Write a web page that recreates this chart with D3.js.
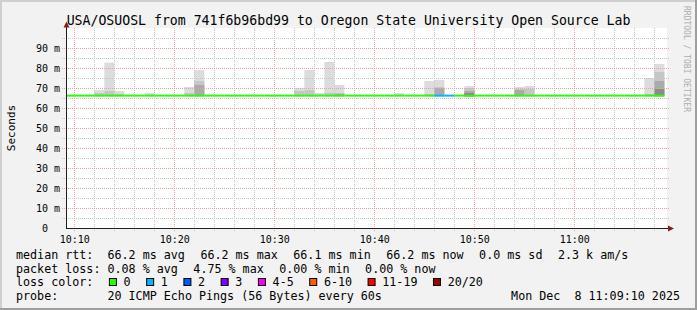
<!DOCTYPE html>
<html><head><meta charset="utf-8">
<script src="https://cdn.jsdelivr.net/npm/d3@7"></script>
<style>
body{margin:0;background:#f2f2f2}
svg{display:block}
text{font-family:"DejaVu Sans Mono",monospace;fill:#000}
</style>
</head><body>
<svg id="c" width="697" height="310"></svg>
<script>
// ---------------- data ----------------
const title = "USA/OSUOSL from 741f6b96bd99 to Oregon State University Open Source Lab";
const yLabel = "Seconds";
const watermark = "RRDTOOL / TOBI OETIKER";
const startTime = "2025-12-08 10:09:10";
const endTime = "2025-12-08 11:09:10";

const minutes = ["10:09","10:10","10:11","10:12","10:13","10:14","10:15","10:16","10:17","10:18",
  "10:19","10:20","10:21","10:22","10:23","10:24","10:25","10:26","10:27","10:28",
  "10:29","10:30","10:31","10:32","10:33","10:34","10:35","10:36","10:37","10:38",
  "10:39","10:40","10:41","10:42","10:43","10:44","10:45","10:46","10:47","10:48",
  "10:49","10:50","10:51","10:52","10:53","10:54","10:55","10:56","10:57","10:58",
  "10:59","11:00","11:01","11:02","11:03","11:04","11:05","11:06","11:07","11:08"];
const medianRtt = [66.2,66.2,66.2,66.2,66.2,66.2,66.2,66.2,66.2,66.2,
  66.2,66.2,66.2,66.2,66.2,66.2,66.2,66.2,66.2,66.2,
  66.2,66.2,66.2,66.2,66.2,66.2,66.2,66.2,66.2,66.2,
  66.2,66.2,66.2,66.2,66.2,66.2,66.2,66.2,66.2,66.2,
  66.1,66.2,66.2,66.2,66.2,66.2,66.2,66.2,66.2,66.2,
  66.2,66.2,66.2,66.2,66.2,66.2,66.2,66.2,66.2,66.2];
const lossCount = [0,0,0,0,0,0,0,0,0,0,
  0,0,0,0,0,0,0,0,0,0,
  0,0,0,0,0,0,0,0,0,0,
  0,0,0,0,0,0,0,1,1,0,
  0,0,0,0,0,0,0,0,0,0,
  0,0,0,0,0,0,0,0,0,0];

// smoke (ms): minimum ping, then successive darker band tops
const smokeMinutes = ["10:12","10:13","10:14","10:17","10:21","10:22","10:32","10:33","10:34","10:35",
  "10:36","10:42","10:45","10:46","10:49","10:54","10:55","11:07","11:08"];
const smokeMin   = [65.9,65.9,65.9,65.9,65.9,65.9,65.9,65.9,65.9,65.9,65.9,65.9,65.9,65.9,65.9,65.9,65.9,65.9,65.9];
const smokeTop   = [69.0,82.7,68.5,67.6,70.5,79.0,70.0,79.0,67.5,83.0,71.5,67.5,73.5,74.0,71.0,70.5,71.0,75.0,82.0];
const smokeBand2 = [67.5,68.5,67.0,null,67.5,73.5,68.5,69.0,null,67.5,67.5,null,67.0,70.5,70.0,69.5,69.5,67.0,78.0];
const smokeBand3 = [null,null,null,null,null,71.5,null,null,null,null,67.0,null,null,70.0,68.5,69.0,null,null,73.5];
const smokeBand4 = [null,null,null,null,null,null,null,null,null,null,null,null,null,null,67.5,null,null,null,69.5];

const yTicks = [0,10,20,30,40,50,60,70,80,90];
const xTickLabels = ["10:10","10:20","10:30","10:40","10:50","11:00"];

const lossLabels = ["0","1","2","3","4-5","6-10","11-19","20/20"];
const lossColors = ["#26ff00","#00b8ff","#0059ff","#7e00ff","#ff00ea","#ff5e00","#ff0000","#a00000"];
const lossUpper  = [0,1,2,3,5,10,19,20];

const legendRtt  = ["median rtt:  66.2 ms avg","66.2 ms max","66.1 ms min","66.2 ms now","0.0 ms sd","2.3 k am/s"];
const legendLoss = ["packet loss: 0.08 % avg","4.75 % max","0.00 % min","0.00 % now"];
const legendLossTitle = "loss color:";
const probeText = "probe:       20 ICMP Echo Pings (56 Bytes) every 60s";
const dateText = "Mon Dec  8 11:09:10 2025";

// ---------------- drawing ----------------
const W = 697, H = 310;
const svg = d3.select("#c");
const pT = d3.timeParse("%Y-%m-%d %H:%M:%S");
const pM = m => pT("2025-12-08 " + m + ":00");
const t0 = pT(startTime), t1 = pT(endTime);
const x = d3.scaleTime().domain([t0, t1]).range([66, 666]);
const y = d3.scaleLinear().domain([0, 100]).range([228, 28]);
const shadeColors = ["#dcdcdc", "#c6c6c6", "#ababab", "#8c8c8c"];

// background + 3D frame
svg.append("rect").attr("x",0).attr("y",0).attr("width",W).attr("height",H).attr("fill","#f2f2f2");
svg.append("path").attr("d",`M0,0H${W}V2H2V${H}H0Z`).attr("fill","#cfcfcf");
svg.append("path").attr("d",`M${W},${H}H0V${H-2}H${W-2}V0H${W}Z`).attr("fill","#9e9e9e");

// canvas
svg.append("rect").attr("x",66).attr("y",28).attr("width",601).attr("height",200).attr("fill","#fff");

svg.append("defs").append("clipPath").attr("id","clip")
  .append("rect").attr("x",66).attr("y",28).attr("width",600).attr("height",200);

// smoke
const gS = svg.append("g").attr("clip-path","url(#clip)");
const bands = [smokeTop, smokeBand2, smokeBand3, smokeBand4];
bands.forEach((arr, bi) => {
  smokeMinutes.forEach((m, i) => {
    const v = arr[i];
    if (v == null) return;
    const ts = pM(m), te = d3.timeMinute.offset(ts, 1);
    gS.append("rect")
      .attr("x", x(ts)).attr("width", x(te) - x(ts))
      .attr("y", y(v)).attr("height", y(smokeMin[i]) - y(v))
      .attr("fill", shadeColors[bi]);
  });
});

// grid
const gG = svg.append("g");
const minorX = d3.timeMinute.every(2).range(t0, t1);
const majorX = d3.timeMinute.every(10).range(t0, t1);
minorX.forEach(t => {
  if (t.getMinutes() % 10 === 0) return;
  const xx = Math.round(x(t)) + 0.5;
  gG.append("line").attr("x1",xx).attr("x2",xx).attr("y1",28).attr("y2",231)
    .attr("stroke","#c4c4c4").attr("stroke-dasharray","1,1");
});
for (let v = 5; v < 100; v += 10) {
  const yy = Math.round(y(v)) + 0.5;
  gG.append("line").attr("x1",62).attr("x2",669).attr("y1",yy).attr("y2",yy)
    .attr("stroke","#c4c4c4").attr("stroke-dasharray","1,1");
}
majorX.forEach(t => {
  const xx = Math.round(x(t)) + 0.5;
  gG.append("line").attr("x1",xx).attr("x2",xx).attr("y1",28).attr("y2",231)
    .attr("stroke","#f0a0a0").attr("stroke-dasharray","1,1");
});
yTicks.filter(v => v > 0).forEach(v => {
  const yy = Math.round(y(v)) + 0.5;
  gG.append("line").attr("x1",62).attr("x2",669).attr("y1",yy).attr("y2",yy)
    .attr("stroke","#f0a0a0").attr("stroke-dasharray","1,1");
});

// median line coloured by loss
const gM = svg.append("g").attr("clip-path","url(#clip)");
minutes.forEach((m, i) => {
  const ts = pM(m), te = d3.timeMinute.offset(ts, 1);
  const li = lossUpper.findIndex(u => lossCount[i] <= u);
  gM.append("rect")
    .attr("x", x(ts)).attr("width", x(te) - x(ts))
    .attr("y", y(medianRtt[i]) - 1).attr("height", 2)
    .attr("fill", lossColors[li]);
});

// axes
const yAxis = d3.axisLeft(y).tickValues(yTicks).tickSize(0).tickPadding(6)
  .tickFormat(v => v === 0 ? "0\u00a0\u00a0" : d3.format("d")(v) + " m");
const gy = svg.append("g").attr("transform","translate(66,0)").call(yAxis);
gy.select(".domain").remove();
gy.selectAll("text").attr("font-size","10px").attr("font-family","DejaVu Sans Mono").attr("dy","0.35em");

const xAxis = d3.axisBottom(x).tickValues(xTickLabels.map(pM)).tickSize(0).tickPadding(8)
  .tickFormat(d3.timeFormat("%H:%M"));
const gx = svg.append("g").attr("transform","translate(0,228)").call(xAxis);
gx.select(".domain").remove();
gx.selectAll("text").attr("font-size","10px").attr("font-family","DejaVu Sans Mono").attr("dy","0.71em");

svg.append("line").attr("x1",66.5).attr("x2",66.5).attr("y1",228.5).attr("y2",25).attr("stroke","#1f1f1f");
svg.append("line").attr("x1",66).attr("x2",670).attr("y1",228.5).attr("y2",228.5).attr("stroke","#1f1f1f");
svg.append("path").attr("d","M63.5,27.5L66.5,21.5L69.5,27.5Z").attr("fill","#801f1f");
svg.append("path").attr("d","M668,225.5L674,228.5L668,231.5Z").attr("fill","#801f1f");

// title and labels
svg.append("text").attr("x",W/2).attr("y",24.5).attr("text-anchor","middle")
  .attr("font-size","13.2px").text(title);
svg.append("text").attr("transform","translate(14.5,128) rotate(-90)").attr("text-anchor","middle")
  .attr("font-size","11px").text(yLabel);
svg.append("text").attr("transform","translate(684,59) rotate(90)").attr("text-anchor","middle")
  .attr("font-size","8px").style("fill","#adadad").text(watermark);

// legend
const LF = "11.7px", gap = 15.5, lx = 16;
const lineY = [259, 272.5, 286, 299.5];
function row(items, yy) {
  let cx = lx;
  items.forEach(s => {
    const t = svg.append("text").attr("x",cx).attr("y",yy).attr("font-size",LF)
      .attr("xml:space","preserve").style("white-space","pre").text(s);
    cx += t.node().getComputedTextLength() + gap;
  });
}
row(legendRtt, lineY[0]);
row(legendLoss, lineY[1]);
{
  const t = svg.append("text").attr("x",lx).attr("y",lineY[2]).attr("font-size",LF).text(legendLossTitle);
  let cx = lx + t.node().getComputedTextLength() + gap;
  lossLabels.forEach((lab, i) => {
    svg.append("rect").attr("x",cx+0.5).attr("y",lineY[2]-7.5).attr("width",7).attr("height",7)
      .attr("fill",lossColors[i]).attr("stroke","#000");
    const tt = svg.append("text").attr("x",cx+14.7).attr("y",lineY[2]).attr("font-size",LF).text(lab);
    cx += 14.7 + tt.node().getComputedTextLength() + gap;
  });
}
svg.append("text").attr("x",lx).attr("y",lineY[3]).attr("font-size",LF)
  .attr("xml:space","preserve").style("white-space","pre").text(probeText);
svg.append("text").attr("x",680).attr("y",lineY[3]).attr("font-size",LF).attr("text-anchor","end")
  .attr("xml:space","preserve").style("white-space","pre").text(dateText);
</script>
</body></html>
